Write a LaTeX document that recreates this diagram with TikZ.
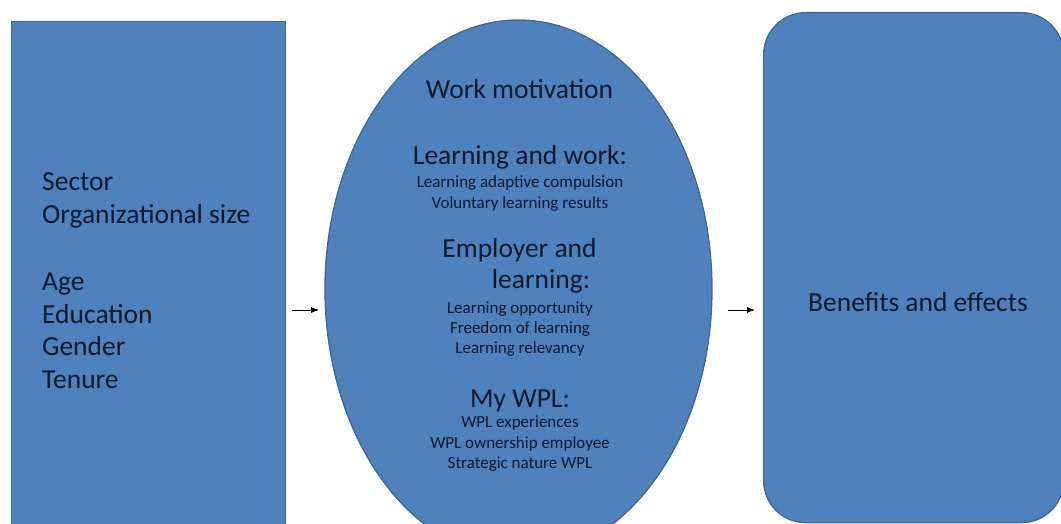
\documentclass[tikz,border=0pt]{standalone}
\usepackage{fontspec}
\setmainfont{Carlito}
\usetikzlibrary{arrows.meta,shapes.geometric}
\definecolor{boxfill}{HTML}{4F81BD}
\definecolor{boxline}{HTML}{3C6897}
\definecolor{txt}{HTML}{0E1A2E}
\tikzset{
  shapebox/.style={draw=boxline, fill=boxfill, line width=1.3pt, inner sep=0pt},
  bigtxt/.style={text=txt, inner sep=0pt, font=\fontsize{27.5}{33}\selectfont},
  smalltxt/.style={text=txt, inner sep=0pt, font=\fontsize{17}{20}\selectfont},
  flowarrow/.style={draw=black, line width=0.9pt, -{Latex[length=8pt,width=6pt]}}
}
\begin{document}
\begin{tikzpicture}[x=1pt,y=-1pt]
\useasboundingbox (0,0) rectangle (1061,524);
\fill[white] (0,0) rectangle (1061,524);
\begin{scope}
\clip (0,0) rectangle (1061,524);
\node[shapebox, rectangle, anchor=north west, minimum width=274pt, minimum height=530pt] (left) at (11,21) {};
\node[shapebox, ellipse, minimum width=387pt, minimum height=538pt] (mid) at (518.5,289) {};
\node[shapebox, rectangle, rounded corners=42pt, anchor=north west, minimum width=300pt, minimum height=510pt] (right) at (763,12) {};
\end{scope}

% left texts
\node[bigtxt, anchor=base west] (l1) at (42,191) {Sector};
\node[bigtxt, anchor=base west] (l2) at (42,223) {Organizational size};
\node[bigtxt, anchor=base west] (l3) at (42,290) {Age};
\node[bigtxt, anchor=base west] (l4) at (42,323) {Education};
\node[bigtxt, anchor=base west] (l5) at (42,355) {Gender};
\node[bigtxt, anchor=base west] (l6) at (42,388) {Tenure};

% middle texts
\node[bigtxt, anchor=base] (m1) at (519.5,99) {Work motivation};
\node[bigtxt, anchor=base] (m2) at (520,165) {Learning and work:};
\node[smalltxt, anchor=base] (m3) at (520,188) {Learning adaptive compulsion};
\node[smalltxt, anchor=base] (m4) at (520,208) {Voluntary learning results};
\node[bigtxt, anchor=base] (m5) at (519.5,257) {Employer and};
\node[bigtxt, anchor=base] (m6) at (541,288) {learning:};
\node[smalltxt, anchor=base] (m7) at (520,313) {Learning opportunity};
\node[smalltxt, anchor=base] (m8) at (520,333) {Freedom of learning};
\node[smalltxt, anchor=base] (m9) at (520,353) {Learning relevancy};
\node[bigtxt, anchor=base] (m10) at (520,407) {My WPL:};
\node[smalltxt, anchor=base] (m11) at (520,427) {WPL experiences};
\node[smalltxt, anchor=base] (m12) at (520,448) {WPL ownership employee};
\node[smalltxt, anchor=base] (m13) at (520,468) {Strategic nature WPL};

% right text
\node[bigtxt, anchor=base] (r1) at (918,311) {Benefits and effects};

% arrows
\coordinate (a1s) at (292,310);
\coordinate (a1e) at (319,310);
\coordinate (a2s) at (728,310);
\coordinate (a2e) at (755,310);
\draw[flowarrow] (a1s) -- (a1e);
\draw[flowarrow] (a2s) -- (a2e);
\end{tikzpicture}
\end{document}
